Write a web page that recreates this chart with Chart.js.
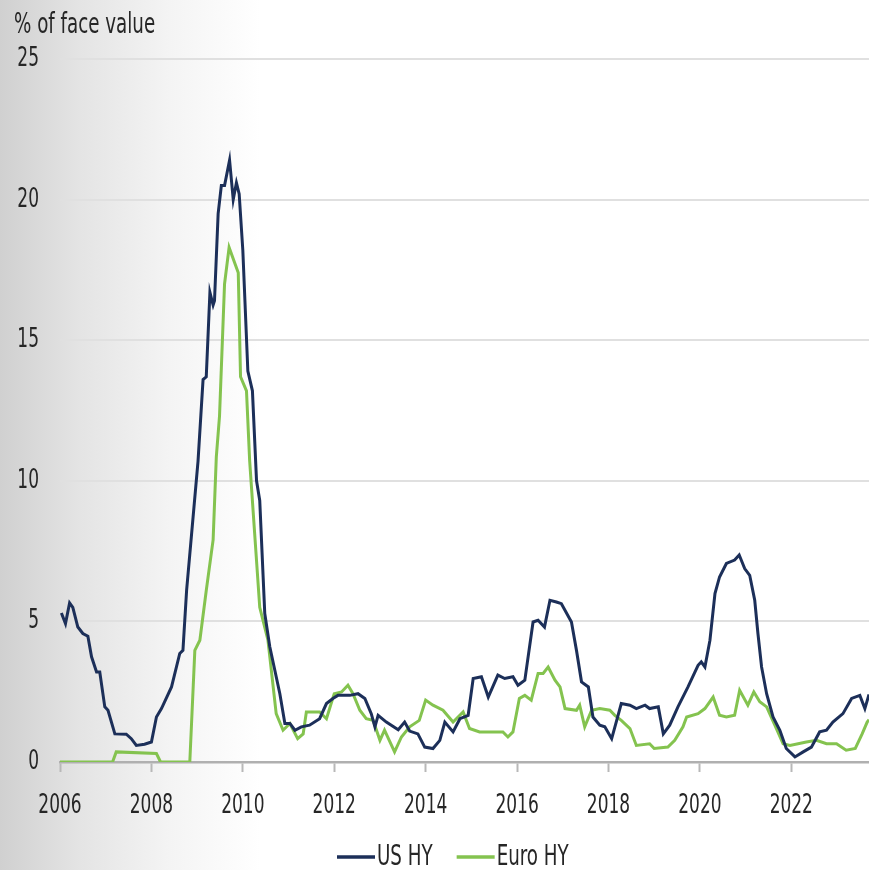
<!DOCTYPE html>
<html><head><meta charset="utf-8">
<script src="https://cdn.jsdelivr.net/npm/chart.js@4.4.1/dist/chart.umd.min.js"></script>
<style>
html,body{margin:0;padding:0;}
body{width:869px;height:870px;overflow:hidden;background:linear-gradient(to right,#d0d0d0 0px,#e4e4e4 80px,#f4f4f4 170px,#ffffff 260px);}
canvas{display:block;}
</style>
</head><body>
<canvas id="c" width="869" height="870"></canvas>
<script>
// ---- data ----
const usDates = [2006.03,2006.12,2006.21,2006.28,2006.39,2006.5,2006.61,2006.69,2006.8,2006.87,2006.98,2007.05,2007.2,2007.45,2007.56,2007.67,2007.85,2008.0,2008.11,2008.22,2008.44,2008.62,2008.69,2008.77,2009.02,2009.13,2009.2,2009.28,2009.35,2009.38,2009.46,2009.53,2009.6,2009.71,2009.79,2009.86,2009.92,2010.0,2010.11,2010.21,2010.3,2010.37,2010.48,2010.59,2010.81,2010.92,2011.03,2011.14,2011.28,2011.46,2011.68,2011.83,2011.97,2012.08,2012.34,2012.52,2012.67,2012.81,2012.89,2012.96,2013.14,2013.4,2013.54,2013.65,2013.83,2013.98,2014.16,2014.31,2014.42,2014.6,2014.75,2014.93,2015.04,2015.22,2015.37,2015.58,2015.73,2015.91,2016.02,2016.17,2016.35,2016.46,2016.6,2016.72,2016.86,2016.97,2017.19,2017.3,2017.41,2017.56,2017.66,2017.81,2017.92,2018.07,2018.18,2018.28,2018.47,2018.61,2018.8,2018.9,2019.09,2019.2,2019.34,2019.52,2019.74,2019.96,2020.03,2020.11,2020.22,2020.33,2020.43,2020.58,2020.76,2020.86,2020.98,2021.09,2021.2,2021.27,2021.35,2021.46,2021.6,2021.75,2021.89,2022.08,2022.26,2022.44,2022.62,2022.77,2022.91,2023.13,2023.32,2023.5,2023.61,2023.7];
const usValues = [5.3,4.92,5.66,5.5,4.8,4.57,4.47,3.74,3.2,3.2,1.96,1.84,1.0,0.99,0.83,0.59,0.63,0.71,1.6,1.9,2.67,3.86,3.97,6.1,10.7,13.6,13.7,16.7,16.25,16.4,19.5,20.5,20.5,21.4,20.0,20.6,20.2,18.2,13.9,13.2,10.0,9.3,5.28,4.1,2.43,1.37,1.37,1.13,1.25,1.31,1.54,2.08,2.26,2.37,2.37,2.43,2.26,1.72,1.25,1.66,1.42,1.15,1.42,1.10,1.0,0.53,0.48,0.77,1.42,1.07,1.54,1.66,2.97,3.03,2.31,3.09,2.97,3.03,2.73,2.91,4.98,5.04,4.8,5.75,5.69,5.63,4.98,3.97,2.85,2.67,1.6,1.31,1.25,0.83,1.48,2.08,2.02,1.9,2.02,1.9,1.96,1.0,1.31,1.96,2.67,3.44,3.56,3.38,4.33,5.99,6.58,7.06,7.18,7.36,6.88,6.64,5.75,4.57,3.38,2.43,1.6,1.13,0.48,0.18,0.36,0.53,1.07,1.13,1.42,1.72,2.26,2.37,1.9,2.4];
const euroDates = [2006.0,2007.15,2007.23,2008.11,2008.2,2008.84,2008.95,2009.06,2009.2,2009.35,2009.42,2009.49,2009.6,2009.7,2009.9,2009.95,2010.08,2010.15,2010.37,2010.55,2010.73,2010.88,2011.03,2011.2,2011.32,2011.39,2011.68,2011.83,2012.0,2012.16,2012.3,2012.41,2012.56,2012.7,2012.85,2013.0,2013.1,2013.32,2013.47,2013.65,2013.86,2014.0,2014.16,2014.38,2014.6,2014.82,2014.96,2015.18,2015.69,2015.8,2015.91,2016.05,2016.17,2016.31,2016.46,2016.57,2016.68,2016.83,2016.94,2017.05,2017.3,2017.37,2017.48,2017.63,2017.81,2018.03,2018.14,2018.28,2018.47,2018.61,2018.9,2019.0,2019.3,2019.45,2019.63,2019.71,2019.96,2020.11,2020.29,2020.43,2020.58,2020.76,2020.87,2021.05,2021.18,2021.31,2021.46,2021.64,2021.82,2021.97,2022.33,2022.55,2022.77,2022.99,2023.2,2023.4,2023.55,2023.66,2023.7];
const euroValues = [0,0,0.36,0.3,0,0,3.97,4.33,6.1,7.9,10.85,12.3,17.0,18.3,17.4,13.7,13.2,10.7,5.5,4.33,1.72,1.13,1.37,0.83,1.0,1.78,1.78,1.54,2.43,2.49,2.73,2.43,1.84,1.54,1.48,0.77,1.13,0.36,0.89,1.25,1.48,2.2,2.02,1.84,1.42,1.78,1.19,1.07,1.07,0.89,1.07,2.26,2.37,2.2,3.15,3.15,3.38,2.91,2.67,1.9,1.84,2.02,1.25,1.84,1.9,1.84,1.66,1.48,1.19,0.59,0.65,0.48,0.53,0.77,1.25,1.6,1.72,1.9,2.31,1.66,1.6,1.66,2.55,2.02,2.49,2.14,1.96,1.31,0.65,0.59,0.71,0.77,0.65,0.65,0.42,0.48,1.0,1.42,1.5];
const seriesNames = ['US HY','Euro HY'];
const xTickValues = [2006,2008,2010,2012,2014,2016,2018,2020,2022];
const yTickValues = [0,5,10,15,20,25];
const axisTitle = '% of face value';

const FONT = '"DejaVu Sans Condensed","Liberation Sans Narrow","DejaVu Sans",sans-serif';
const FSIZE = 27;
const LSIZE = 29;
const SX = 0.7; // horizontal squeeze of all text (tall, narrow lettering)
const TEXT = '#262626';
const NAVY = '#1c2f59';
const GREEN = '#84c34f';

const toPts = (xs, ys) => xs.map((x, i) => ({x: x, y: ys[i]}));

const narrowTextPlugin = {
  id: 'narrowText',
  beforeInit(chart) {
    const ctx = chart.ctx;
    if (ctx.__narrow) return;
    const orig = ctx.fillText.bind(ctx);
    ctx.fillText = function (t, x, y, mw) {
      this.save();
      this.translate(x, y);
      this.scale(SX, 1);
      if (mw !== undefined && mw !== null) orig(t, 0, 0, mw / SX); else orig(t, 0, 0);
      this.restore();
    };
    ctx.__narrow = true;
  }
};
const legendPlugin = {
  id: 'customLegend',
  afterDraw(chart) {
    const ctx = chart.ctx;
    ctx.save();
    ctx.font = LSIZE + 'px ' + FONT;
    ctx.textBaseline = 'middle';
    ctx.textAlign = 'left';
    let x = 337; const y = 857;
    chart.data.datasets.forEach(ds => {
      ctx.strokeStyle = ds.borderColor; ctx.lineWidth = 3.5;
      ctx.beginPath(); ctx.moveTo(x, y); ctx.lineTo(x + 38, y); ctx.stroke();
      x += 40;
      ctx.fillStyle = TEXT; ctx.fillText(ds.label, x, y);
      x += ctx.measureText(ds.label).width * SX + 24;
    });
    ctx.restore();
  }
};
const titlePlugin = {
  id: 'axisTitle',
  afterDraw(chart) {
    const ctx = chart.ctx;
    ctx.save();
    ctx.font = LSIZE + 'px ' + FONT;
    ctx.fillStyle = TEXT; ctx.textBaseline = 'middle'; ctx.textAlign = 'left';
    ctx.fillText(axisTitle, 14, 25);
    ctx.restore();
  }
};

new Chart(document.getElementById('c'), {
  type: 'line',
  data: {
    datasets: [
      {label: seriesNames[0], data: toPts(usDates, usValues), borderColor: NAVY, backgroundColor: NAVY, borderWidth: 3, pointRadius: 0, tension: 0, fill: false},
      {label: seriesNames[1], data: toPts(euroDates, euroValues), borderColor: GREEN, backgroundColor: GREEN, borderWidth: 3, pointRadius: 0, tension: 0, fill: false}
    ]
  },
  options: {
    responsive: false,
    animation: false,
    layout: {padding: {left: 0, right: 0, top: 59, bottom: 33}},
    plugins: {legend: {display: false}, tooltip: {enabled: false}},
    scales: {
      x: {
        type: 'linear', min: 2006, max: 2023.7,
        afterFit(s) { s.height = 75; },
        afterBuildTicks(s) { s.ticks = xTickValues.map(v => ({value: v})); },
        ticks: {autoSkip: false, maxRotation: 0, padding: 18, color: TEXT, font: {family: FONT, size: FSIZE}, callback: v => String(v)},
        grid: {drawOnChartArea: false, drawTicks: true, tickLength: 10, tickColor: '#b8b8b8', tickWidth: 2},
        border: {display: true, color: '#b0b0b0', width: 2.5}
      },
      y: {
        min: 0, max: 25,
        afterFit(s) { s.width = 60; },
        afterBuildTicks(s) { s.ticks = yTickValues.map(v => ({value: v})); },
        ticks: {padding: 21, color: TEXT, font: {family: FONT, size: FSIZE}, callback: v => String(v)},
        grid: {drawTicks: false, lineWidth: 2, color: c => (c.tick && c.tick.value === 0) ? 'rgba(0,0,0,0)' : '#e0e0e0'},
        border: {display: false}
      }
    }
  },
  plugins: [narrowTextPlugin, legendPlugin, titlePlugin]
});
</script>
</body></html>
